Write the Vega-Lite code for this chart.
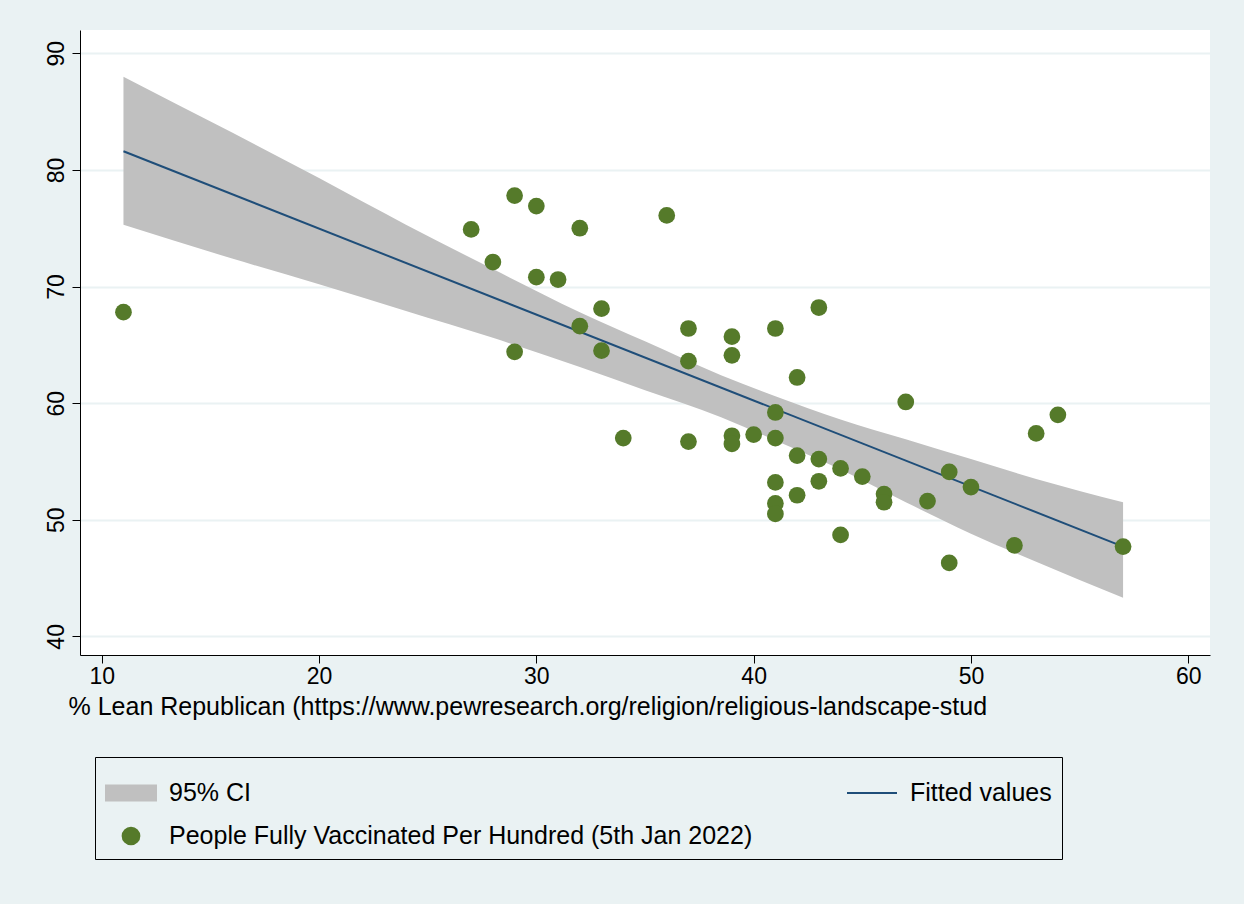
{
"$schema":"https://vega.github.io/schema/vega-lite/v6.json",
"width":1130,"height":625,
"autosize":{"type":"none"},
"padding":{"left":80,"top":30,"right":34,"bottom":249},
"background":"#EAF2F3",
"config":{"view":{"fill":"white","stroke":null},"font":"Liberation Sans"},
"datasets":{
"pts":[{"x":11,"y":67.8},{"x":27,"y":74.9},{"x":28,"y":72.1},{"x":29,"y":77.8},{"x":29,"y":64.4},{"x":30,"y":76.9},{"x":30,"y":70.8},{"x":31,"y":70.6},{"x":32,"y":75.0},{"x":32,"y":66.6},{"x":33,"y":68.1},{"x":33,"y":64.5},{"x":34,"y":57.0},{"x":36,"y":76.1},{"x":37,"y":66.4},{"x":37,"y":63.6},{"x":37,"y":56.7},{"x":39,"y":65.7},{"x":39,"y":64.1},{"x":39,"y":57.2},{"x":39,"y":56.5},{"x":40,"y":57.3},{"x":41,"y":66.4},{"x":41,"y":59.2},{"x":41,"y":57.0},{"x":41,"y":53.2},{"x":41,"y":51.4},{"x":41,"y":50.5},{"x":42,"y":62.2},{"x":42,"y":55.5},{"x":42,"y":52.1},{"x":43,"y":68.2},{"x":43,"y":55.2},{"x":43,"y":53.3},{"x":44,"y":54.4},{"x":44,"y":48.7},{"x":45,"y":53.7},{"x":46,"y":52.2},{"x":46,"y":51.5},{"x":47,"y":60.1},{"x":48,"y":51.6},{"x":49,"y":54.1},{"x":49,"y":46.3},{"x":50,"y":52.8},{"x":52,"y":47.8},{"x":53,"y":57.4},{"x":54,"y":59.0},{"x":57,"y":47.7}],
"ci":[{"x":11,"lo":75.3,"hi":88.0},{"x":16,"lo":72.4,"hi":83.2},{"x":20,"lo":70.2,"hi":79.3},{"x":24,"lo":67.9,"hi":75.3},{"x":28,"lo":65.6,"hi":71.5},{"x":32,"lo":63.1,"hi":67.8},{"x":35,"lo":61.1,"hi":65.3},{"x":38.5,"lo":58.8,"hi":62.4},{"x":41,"lo":56.8,"hi":60.6},{"x":44,"lo":54.3,"hi":58.6},{"x":47,"lo":51.5,"hi":56.9},{"x":50,"lo":48.8,"hi":55.2},{"x":53,"lo":46.4,"hi":53.5},{"x":57,"lo":43.3,"hi":51.5}],
"fit":[{"x":11,"f":81.6},{"x":57,"f":47.7}]
},
"encoding":{
"x":{"type":"quantitative","scale":{"domain":[9,61],"nice":false,"zero":false},
"axis":{"values":[10,20,30,40,50,60],"grid":false,"domainColor":"black","tickColor":"black","tickSize":8,"labelFontSize":23,"labelColor":"black","titleFontSize":25,"titleFontWeight":"normal","titleColor":"black","title":"% Lean Republican (https://www.pewresearch.org/religion/religious-landscape-stud","titleAnchor":"start","titleX":-12,"titleLimit":1200,"titlePadding":6}},
"y":{"type":"quantitative","scale":{"domain":[38.4,92],"nice":false,"zero":false},
"axis":{"values":[40,50,60,70,80,90],"gridColor":"#EAF2F3","gridWidth":2,"domainColor":"black","tickColor":"black","tickSize":8,"labelFontSize":23,"labelColor":"black","labelAngle":-90,"labelAlign":"center","labelBaseline":"bottom","labelPadding":4,"title":null}}
},
"layer":[
{"data":{"name":"ci"},"mark":{"type":"area","color":"#C0C0C0","interpolate":"monotone"},
"encoding":{"x":{"field":"x"},"y":{"field":"lo"},"y2":{"field":"hi"},
"color":{"datum":"95% CI","scale":{"domain":["95% CI","People Fully Vaccinated Per Hundred (5th Jan 2022)","Fitted values"],"range":["#C0C0C0","#557A2A","#1F4E79"]},
"legend":{"orient":"none","legendX":15,"legendY":727,"columns":2,"columnPadding":90,"labelFontSize":25,"labelColor":"black","rowPadding":4,"padding":10,"strokeColor":"black","labelLimit":900,"labelOffset":12,"title":null,
"encode":{"symbols":{"update":{"shape":{"signal":"datum.value==='95% CI' ? 'M-1,-0.3H1V0.3H-1Z' : (datum.value==='Fitted values' ? 'M-1,0H1' : 'circle')"},"size":{"signal":"datum.value==='People Fully Vaccinated Per Hundred (5th Jan 2022)' ? 280 : 2500"},"fill":{"signal":"datum.value==='Fitted values' ? 'transparent' : scale('color', datum.value)"},"stroke":{"signal":"datum.value==='Fitted values' ? '#1F4E79' : 'transparent'"},"strokeWidth":{"value":2},"opacity":{"value":1},"fillOpacity":{"value":1}}}}}}}},
{"data":{"name":"fit"},"mark":{"type":"line","color":"#1F4E79","strokeWidth":2},
"encoding":{"x":{"field":"x"},"y":{"field":"f"},"color":{"datum":"Fitted values"}}},
{"data":{"name":"pts"},"mark":{"type":"circle","size":280,"opacity":1,"color":"#557A2A"},
"encoding":{"x":{"field":"x"},"y":{"field":"y"},"color":{"datum":"People Fully Vaccinated Per Hundred (5th Jan 2022)"}}}
]
}
